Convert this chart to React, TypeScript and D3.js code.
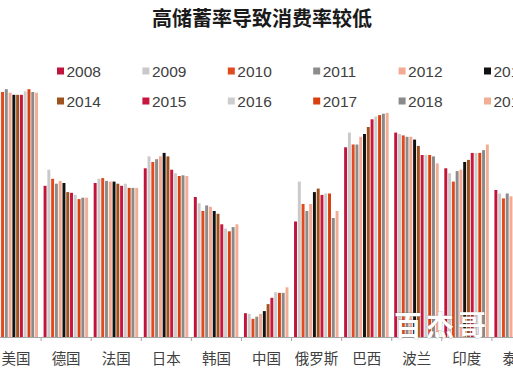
import React from 'react';
import * as d3 from 'd3';

const countries = ['美国', '德国', '法国', '日本', '韩国', '中国', '俄罗斯', '巴西', '波兰', '印度', '泰国'];
const years = ['2008', '2009', '2010', '2011', '2012', '2013', '2014', '2015', '2016', '2017', '2018', '2019'];
const yearColors = ['#c0143c', '#c9c9c9', '#e04a1e', '#8c8c8c', '#f4aa92', '#111111', '#a0521e', '#c8173f', '#cdcdcd', '#d9400f', '#8a8a8a', '#f2ad95'];

const usa = [68.0, 68.1, 68.0, 68.4, 67.9, 67.6, 67.6, 67.6, 68.1, 68.4, 68.0, 67.9];
const germany = [54.6, 56.9, 55.6, 54.9, 55.3, 55.0, 53.7, 53.6, 53.3, 52.7, 52.9, 52.9];
const france = [55.0, 55.6, 55.7, 55.3, 55.2, 55.2, 54.9, 54.6, 54.9, 54.3, 54.3, 54.3];
const japan = [57.1, 58.8, 58.0, 58.4, 58.8, 59.3, 58.8, 56.9, 56.4, 56.0, 56.1, 56.0];
const korea = [53.0, 52.1, 51.0, 51.8, 51.6, 51.0, 50.6, 49.1, 48.5, 48.1, 48.7, 49.1];
const china = [36.4, 36.3, 35.6, 35.9, 36.3, 36.7, 37.7, 38.6, 39.4, 39.3, 39.3, 40.1];
const russia = [49.5, 55.2, 52.0, 51.0, 52.0, 53.7, 54.2, 53.3, 53.5, 53.5, 50.0, 51.0];
const brazil = [60.1, 62.2, 60.5, 60.5, 61.6, 62.0, 63.0, 64.1, 64.5, 64.7, 64.9, 65.0];
const poland = [62.2, 62.0, 61.8, 61.6, 61.6, 61.2, 60.3, 59.0, 59.0, 59.0, 58.8, 57.8];
const india = [57.1, 56.4, 55.2, 56.7, 56.9, 58.0, 58.3, 59.3, 59.3, 59.3, 59.7, 60.5];
const thailand = [54.0, 53.5, 52.8, 53.5, 53.1, 53.3, 53.0, 52.7, 52.6, 52.6, 52.7, 52.9];

const seriesByCountry = [usa, germany, france, japan, korea, china, russia, brazil, poland, india, thailand];

const title = '高储蓄率导致消费率较低';
const watermark = '百杰哥';

export default function App() {
  const W = 513;
  const H = 371;
  const baseY = 337;

  const x0 = d3.scaleBand<string>().domain(countries).range([-9, 542]).padding(0);
  const x1 = d3.scaleBand<string>().domain(years).range([2.5, 47]).paddingInner(0.22);
  const y = d3.scaleLinear().domain([33, 70]).range([baseY, 78]);

  const latin = "'Liberation Sans', Arial, 'Noto Sans CJK SC', sans-serif";
  const cjk = "'Noto Sans CJK SC', 'Liberation Sans', sans-serif";

  const legendCols = 6;
  const legendX = d3.scaleLinear().domain([0, 1]).range([57, 142.4]);
  const legendRows = [71, 101];

  const boundaries = countries.map((c) => x0(c) as number).concat([(x0(countries[countries.length - 1]) as number) + x0.bandwidth()]);

  return (
    <svg width={W} height={H} style={{ position: 'fixed', left: 0, top: 0, background: '#fff' }}>
      <rect x={0} y={0} width={W} height={H} fill="#fff" />
      <text x={262} y={26} textAnchor="middle" fontFamily={cjk} fontWeight={700} fontSize={20} fill="#1a1a1a">
        {title}
      </text>

      {/* bars */}
      {countries.map((c, ci) => (
        <g key={c} transform={`translate(${x0(c)},0)`}>
          {years.map((yr, yi) => {
            const v = seriesByCountry[ci][yi];
            const top = y(v);
            return (
              <rect key={yr} x={x1(yr)} y={top} width={x1.bandwidth()} height={baseY - top} fill={yearColors[yi]} />
            );
          })}
        </g>
      ))}

      {/* axis */}
      <line x1={0} x2={W} y1={baseY + 0.5} y2={baseY + 0.5} stroke="#a6a6a6" strokeWidth={1} />
      {boundaries.map((b, i) => (
        <line key={i} x1={b} x2={b} y1={baseY} y2={baseY + 4} stroke="#a6a6a6" strokeWidth={1} />
      ))}
      {countries.map((c) => (
        <text key={c} x={(x0(c) as number) + x0.bandwidth() / 2} y={364} textAnchor="middle" fontFamily={cjk} fontSize={14.5} fill="#404040">
          {c}
        </text>
      ))}

      {/* legend */}
      {years.map((yr, i) => {
        const col = i % legendCols;
        const row = Math.floor(i / legendCols);
        const lx = legendX(col);
        const ly = legendRows[row];
        return (
          <g key={yr}>
            <rect x={lx} y={ly - 3.5} width={7} height={7} fill={yearColors[i]} />
            <text x={lx + 9.5} y={ly + 5.5} fontFamily={latin} fontSize={15.5} fill="#404040">
              {yr}
            </text>
          </g>
        );
      })}

      {/* watermark */}
      <text x={394} y={336} fontFamily={cjk} fontWeight={700} fontSize={28} letterSpacing={4} fill="#ffffff" stroke="rgba(90,90,90,0.35)" strokeWidth={1} style={{ paintOrder: 'stroke' }}>
        {watermark}
      </text>
    </svg>
  );
}
